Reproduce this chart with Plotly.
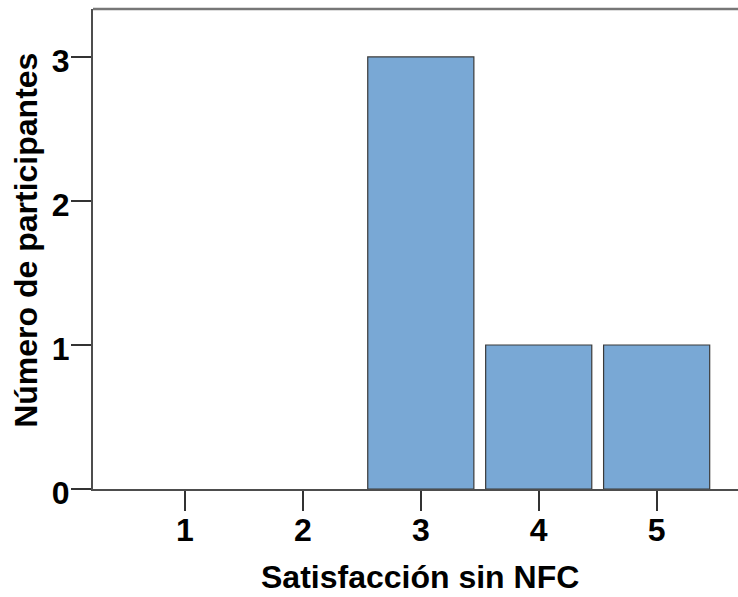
import plotly.graph_objects as go

# Frequency of satisfaction scores (without NFC)
scores = [1, 2, 3, 4, 5]
participants = [0, 0, 3, 1, 1]
y_ticks = [0, 1, 2, 3]

FONT = "Arial, 'Liberation Sans', sans-serif"
AXIS_COLOR = "#4d4d4d"

# empty categories get no outline, so nothing is drawn for them
outline_widths = [1.2 if v > 0 else 0 for v in participants]

fig = go.Figure()
fig.add_trace(go.Bar(
    x=scores,
    y=participants,
    width=0.9,
    marker=dict(color="rgb(121,168,213)",
                line=dict(color="#3a3a3a", width=outline_widths)),
    hoverinfo="x+y",
))

tick_font = dict(size=32, family=FONT, weight="bold", color="black")
title_font = dict(size=32, family=FONT, weight="bold", color="black")

fig.update_layout(
    width=738,
    height=597,
    margin=dict(l=93, r=0, t=9, b=108),
    paper_bgcolor="white",
    plot_bgcolor="white",
    showlegend=False,
    font=dict(family=FONT, color="black"),
    xaxis=dict(
        range=[0.22, 5.69],
        tickmode="array",
        tickvals=scores,
        ticktext=[str(s) for s in scores],
        ticks="outside",
        ticklen=20,
        tickwidth=2,
        tickcolor="#333333",
        tickfont=tick_font,
        ticklabelstandoff=-8,
        showline=True,
        linecolor=AXIS_COLOR,
        linewidth=2,
        showgrid=False,
        zeroline=False,
    ),
    yaxis=dict(
        range=[0, 3.333],
        tickmode="array",
        tickvals=y_ticks,
        ticktext=[str(v) for v in y_ticks],
        ticks="outside",
        ticklen=20,
        tickwidth=2,
        tickcolor="#333333",
        tickfont=tick_font,
        ticklabelstandoff=-5,
        ticklabelshift=4,
        showline=True,
        linecolor=AXIS_COLOR,
        linewidth=2,
        showgrid=False,
        zeroline=False,
    ),
    annotations=[
        dict(text="Satisfacción sin NFC", xref="paper", yref="paper",
             x=0.507, y=-0.183, xanchor="center", yanchor="middle",
             showarrow=False, font=title_font),
        dict(text="Número de participantes", xref="paper", yref="paper",
             x=-0.104, y=0.519, xanchor="center", yanchor="middle",
             textangle=-90, showarrow=False, font=title_font),
    ],
    shapes=[dict(type="line", xref="paper", yref="paper", x0=0, x1=1, y0=1, y1=1,
                 line=dict(color="#777777", width=2.5))],
)

fig.write_html("out.html")
